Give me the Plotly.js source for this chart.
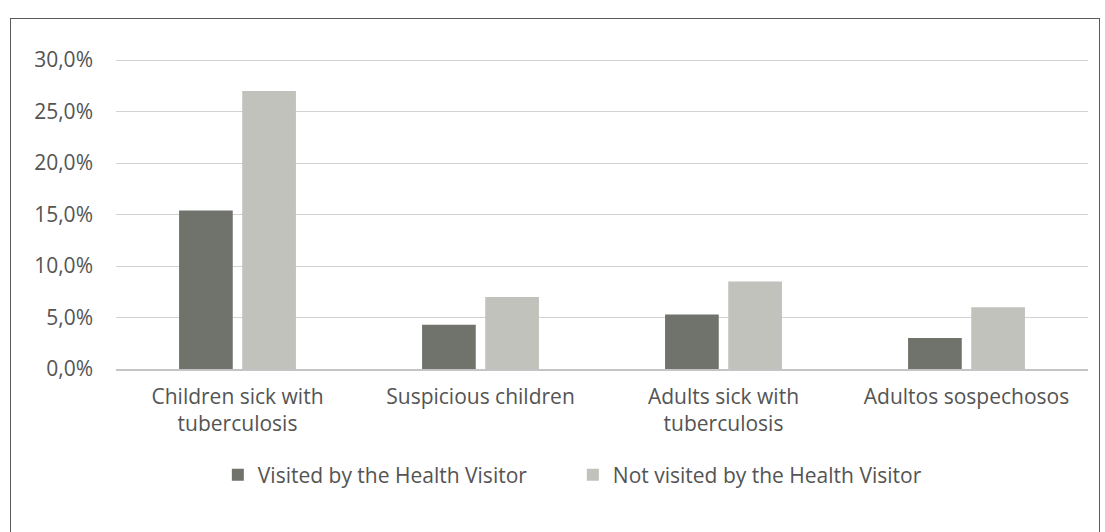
<!DOCTYPE html>
<html>
<head>
<meta charset="utf-8">
<script src="https://cdn.plot.ly/plotly-3.0.1.min.js"></script>
<style>
  html, body { margin: 0; padding: 0; background: #ffffff; width: 1105px; height: 532px; overflow: hidden; }
  #frame { position: absolute; left: 10px; top: 18px; width: 1090px; height: 520px; border: 1.5px solid #5a5a5a; box-sizing: border-box; background: #fff; }
  #chart { width: 100%; height: 100%; }
</style>
</head>
<body>
<div id="frame"><div id="chart"></div></div>
<script>
const categories = [
  "Children sick with<br>tuberculosis",
  "Suspicious children",
  "Adults sick with<br>tuberculosis",
  "Adultos sospechosos"
];
const visited = [15.4, 4.3, 5.3, 3.0];
const notVisited = [27.0, 7.0, 8.5, 6.0];
const seriesNames = ["Visited by the Health Visitor", "Not visited by the Health Visitor"];
const yTickVals = [0, 5, 10, 15, 20, 25, 30];
const yTickText = ["0,0%", "5,0%", "10,0%", "15,0%", "20,0%", "25,0%", "30,0%"];

const textColor = "#545454";
const fontFam = "Open Sans, Liberation Sans, sans-serif";
const traces = [
  { type: "bar", x: categories, y: visited, name: seriesNames[0],
    marker: { color: "#70726c" }, hoverinfo: "none" },
  { type: "bar", x: categories, y: notVisited, name: seriesNames[1],
    marker: { color: "#c0c2bb" }, hoverinfo: "none" }
];

const layout = {
  width: 1087, height: 517,
  margin: { l: 105, r: 10, t: 38, b: 167 },
  paper_bgcolor: "rgba(0,0,0,0)",
  plot_bgcolor: "rgba(0,0,0,0)",
  barmode: "group",
  bargap: 0.48,
  bargroupgap: 0.15,
  font: { family: fontFam, color: textColor },
  xaxis: {
    type: "category",
    showgrid: false,
    showline: true, linecolor: "#c4c4c4", linewidth: 1.5,
    ticks: "",
    ticklabelstandoff: 8,
    tickfont: { size: 21, color: textColor, family: fontFam },
    zeroline: false
  },
  yaxis: {
    range: [0, 30.3],
    tickvals: yTickVals,
    ticktext: yTickText,
    showgrid: true, gridcolor: "#d3d3d3", gridwidth: 1,
    zeroline: false,
    showline: false,
    ticks: "",
    ticklabelstandoff: 22,
    tickfont: { size: 21, color: textColor, family: fontFam }
  },
  showlegend: true,
  legend: {
    orientation: "h",
    x: 0.47, xanchor: "center",
    y: -0.34, yanchor: "middle",
    font: { size: 21, color: textColor, family: fontFam },
    itemwidth: 30,
    entrywidth: 310,
    traceorder: "normal"
  }
};

Plotly.newPlot("chart", traces, layout, { displayModeBar: false, staticPlot: true });
</script>
</body>
</html>
